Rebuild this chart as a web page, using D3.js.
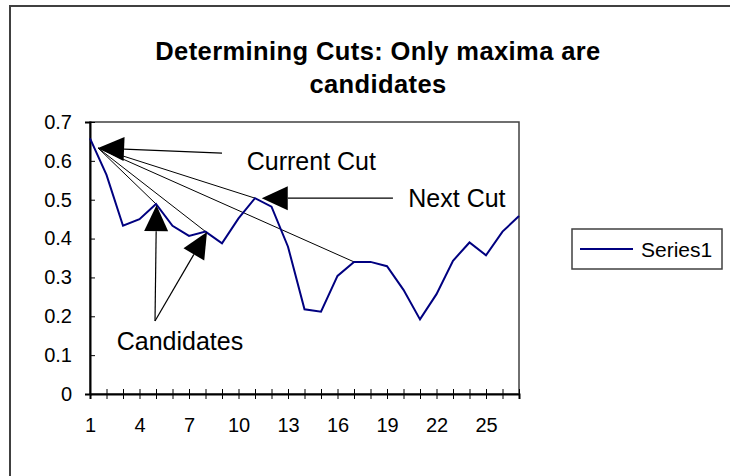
<!DOCTYPE html>
<html lang="en">

<head>
    <title>Determining Cuts</title>
    <meta charset="UTF-8">
    <script src="https://d3js.org/d3.v7.min.js"></script>
    <style>
        body {
            margin: 0;
            background: #fff;
        }

        text {
            font-family: "Liberation Sans", Arial, sans-serif;
            fill: #000;
        }
    </style>
</head>

<body>
    <svg width="730" height="476"></svg>

    <script>
        // data
        const categories = d3.range(1, 28);
        const series1 = [0.658, 0.564, 0.433, 0.450, 0.489, 0.433, 0.407, 0.418, 0.388,
            0.452, 0.504, 0.482, 0.379, 0.218, 0.212, 0.304, 0.340, 0.340, 0.329,
            0.268, 0.192, 0.257, 0.343, 0.390, 0.357, 0.418, 0.458];
        const xLabels = ["1", "4", "7", "10", "13", "16", "19", "22", "25"];
        const yTicks = [0, 0.1, 0.2, 0.3, 0.4, 0.5, 0.6, 0.7];
        const titleLines = ["Determining Cuts: Only maxima are", "candidates"];
        const seriesName = "Series1";

        // annotation positions, in (category, value) units
        const fanOrigin = [1.49, 0.633];
        const fanTargets = [5, 8, 11, 17];
        const arrows = [
            { from: [9.0, 0.620], to: [1.49, 0.633] },
            { from: [19.36, 0.504], to: [11.41, 0.504] },
            { from: [4.94, 0.188], to: [5.03, 0.486] },
            { from: [4.94, 0.188], to: [8.09, 0.417] }
        ];
        const notes = [
            { text: "Current Cut", at: [10.5, 0.576] },
            { text: "Next Cut", at: [20.29, 0.482] },
            { text: "Candidates", at: [2.62, 0.113] }
        ];

        const svg = d3.select("svg");
        const plotLeft = 90, plotRight = 519, plotTop = 122, plotBottom = 394;

        // chart frame (runs off the right and bottom of the picture)
        svg.append("rect")
            .attr("x", 10).attr("y", 6)
            .attr("width", 760).attr("height", 520)
            .attr("fill", "#fff")
            .attr("stroke", "#404040")
            .attr("stroke-width", 2);

        const x = d3.scalePoint().domain(categories).range([plotLeft, plotRight]).padding(0);
        const xc = d3.scaleLinear().domain([1, 27]).range([plotLeft, plotRight]);
        const y = d3.scaleLinear().domain([0, 0.7]).range([plotBottom, plotTop]);

        // plot area border
        svg.append("rect")
            .attr("x", plotLeft).attr("y", plotTop)
            .attr("width", plotRight - plotLeft).attr("height", plotBottom - plotTop)
            .attr("fill", "none")
            .attr("stroke", "#404040")
            .attr("stroke-width", 1.5);

        // title
        svg.append("text")
            .attr("text-anchor", "middle")
            .attr("font-weight", "bold")
            .attr("font-size", 25.5)
            .attr("letter-spacing", 0.4)
            .selectAll("tspan")
            .data(titleLines)
            .join("tspan")
            .attr("x", 378)
            .attr("y", (d, i) => 60 + i * 33)
            .text(d => d);

        // y axis
        const yAxis = svg.append("g")
            .attr("transform", `translate(${plotLeft},0)`)
            .call(d3.axisLeft(y).tickValues(yTicks)
                .tickFormat(d => d === 0 ? "0" : d3.format(".1f")(d))
                .tickSize(5).tickPadding(13));
        yAxis.selectAll(".tick line").attr("x2", 5).attr("stroke", "#000");
        yAxis.select(".domain").attr("stroke", "#000").attr("stroke-width", 2);
        yAxis.selectAll("text").attr("font-size", 20).attr("font-family", "Liberation Sans, Arial, sans-serif");

        // x axis
        const xAxis = svg.append("g")
            .attr("transform", `translate(0,${plotBottom})`)
            .call(d3.axisBottom(x)
                .tickFormat(d => xLabels.includes(String(d)) ? d : "")
                .tickSize(5).tickPadding(18.5));
        xAxis.selectAll(".tick line").attr("y1", -5).attr("stroke", "#000");
        xAxis.select(".domain").attr("stroke", "#000").attr("stroke-width", 2);
        xAxis.selectAll("text").attr("font-size", 20).attr("font-family", "Liberation Sans, Arial, sans-serif");

        // fan of thin lines from the current cut
        svg.append("g")
            .selectAll("line")
            .data(fanTargets)
            .join("line")
            .attr("x1", xc(fanOrigin[0]))
            .attr("y1", y(fanOrigin[1]))
            .attr("x2", d => x(d))
            .attr("y2", d => y(series1[d - 1]))
            .attr("stroke", "#000")
            .attr("stroke-width", 1);

        // the series
        const line = d3.line()
            .x((d, i) => x(categories[i]))
            .y(d => y(d));

        svg.append("path")
            .datum(series1)
            .attr("d", line)
            .attr("fill", "none")
            .attr("stroke", "#000080")
            .attr("stroke-width", 2);

        // arrows with filled heads
        const headLen = 26, headHalf = 12;
        const arrowG = svg.append("g");
        arrows.forEach(a => {
            const x1 = xc(a.from[0]), y1 = y(a.from[1]);
            const x2 = xc(a.to[0]), y2 = y(a.to[1]);
            const len = Math.hypot(x2 - x1, y2 - y1);
            const ux = (x2 - x1) / len, uy = (y2 - y1) / len;
            const bx = x2 - ux * headLen, by = y2 - uy * headLen;
            arrowG.append("line")
                .attr("x1", x1).attr("y1", y1)
                .attr("x2", bx).attr("y2", by)
                .attr("stroke", "#000")
                .attr("stroke-width", 1.2);
            arrowG.append("path")
                .attr("d", `M${x2},${y2}L${bx - uy * headHalf},${by + ux * headHalf}L${bx + uy * headHalf},${by - ux * headHalf}Z`)
                .attr("fill", "#000");
        });

        // annotation text
        svg.append("g")
            .selectAll("text")
            .data(notes)
            .join("text")
            .attr("x", d => xc(d.at[0]))
            .attr("y", d => y(d.at[1]))
            .attr("font-size", 25)
            .text(d => d.text);

        // legend
        const legend = svg.append("g");
        legend.append("rect")
            .attr("x", 572).attr("y", 229)
            .attr("width", 150).attr("height", 40)
            .attr("fill", "#fff")
            .attr("stroke", "#404040")
            .attr("stroke-width", 1.5);
        legend.append("line")
            .attr("x1", 580).attr("x2", 633)
            .attr("y1", 249).attr("y2", 249)
            .attr("stroke", "#000080")
            .attr("stroke-width", 2);
        legend.append("text")
            .attr("x", 641).attr("y", 256.5)
            .attr("font-size", 21)
            .text(seriesName);
    </script>
</body>

</html>
